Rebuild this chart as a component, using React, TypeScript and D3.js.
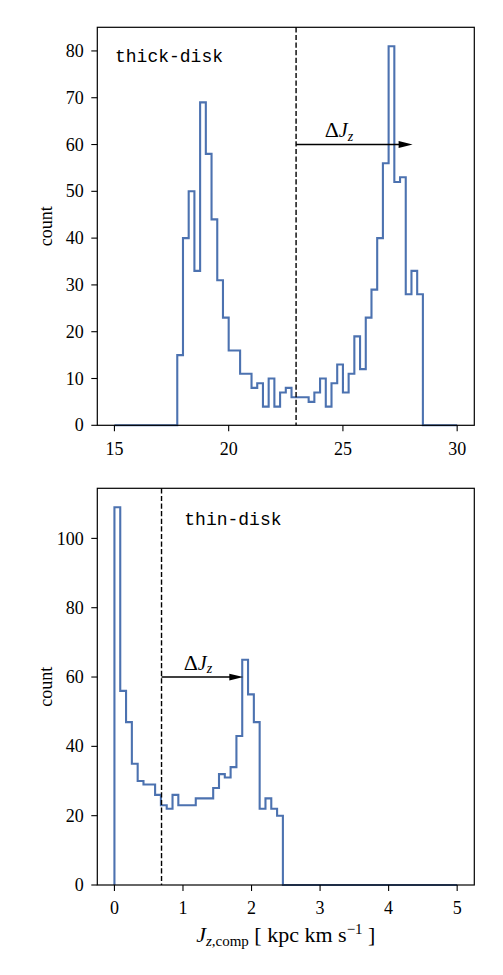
import React from 'react';
import * as d3 from 'd3';

// ---------- data ----------
const thickBins = 60;
const thinBins = 59;
const thickRange = [15, 30];
const thinRange = [0, 5];

const thickCounts = [
  0, 0, 0, 0, 0, 0, 0, 0, 0, 0, 0,
  15, 40, 50, 33, 69, 58, 44, 31, 23, 16,
  16, 11, 11, 8, 9, 4, 10, 4, 7, 8,
  6, 6, 6, 5, 7, 10, 4, 9, 13, 7,
  11, 19, 12, 23, 29, 40, 56, 81, 52, 53,
  28, 33, 28,
  0, 0, 0, 0, 0, 0,
];

const thinCounts = [
  109, 56, 47, 35, 30, 29, 29, 26, 23, 22,
  26, 23, 23, 23, 25, 25, 25, 28, 32, 31,
  34, 43, 65, 55, 47, 22, 25, 22, 20,
  0, 0, 0, 0, 0, 0, 0, 0, 0, 0, 0, 0, 0, 0, 0,
  0, 0, 0, 0, 0, 0, 0, 0, 0, 0, 0, 0, 0, 0, 0,
];

const thickXTicks = [15, 20, 25, 30];
const thickYTicks = [0, 10, 20, 30, 40, 50, 60, 70, 80];
const thinXTicks = [0, 1, 2, 3, 4, 5];
const thinYTicks = [0, 20, 40, 60, 80, 100];

const thickCut = 22.95;
const thickArrowEnd = 28.05;
const thickLabelX = 24.2;
const thinCut = 0.687;
const thinArrowEnd = 1.88;
const thinLabelX = 1.01;
const arrowLevel = 60;

// ---------- style ----------
const W = 503;
const H = 975;
const LEFT = 97.3;
const RIGHT = 474.3;
const BLUE = '#4c72b0';
const SERIF = "'Liberation Serif', 'DejaVu Serif', serif";
const MONO = "'Liberation Mono', 'DejaVu Sans Mono', monospace";

type PanelProps = {
  counts: number[];
  bins: number;
  range: number[];
  xTicks: number[];
  yTicks: number[];
  top: number;
  bottom: number;
  cut: number;
  arrowEnd: number;
  labelX: number;
  name: string;
  nameX: number;
  nameY: number;
  xlabel?: boolean;
};

function Panel(p: PanelProps) {
  const [lo, hi] = p.range;
  const pad = (hi - lo) * 0.05;
  const x = d3.scaleLinear().domain([lo - pad, hi + pad]).range([LEFT, RIGHT]);
  const ymax = (d3.max(p.counts) as number) * 1.05;
  const y = d3.scaleLinear().domain([0, ymax]).range([p.bottom, p.top]);
  const edges = d3.range(p.bins + 1).map((i) => lo + ((hi - lo) * i) / p.bins);

  const pts: [number, number][] = [[edges[0], 0]];
  p.counts.forEach((c, i) => {
    pts.push([edges[i], c]);
    pts.push([edges[i + 1], c]);
  });
  pts.push([edges[p.bins], 0]);
  const line = d3
    .line<[number, number]>()
    .x((d) => x(d[0]))
    .y((d) => y(d[1]));

  const ay = y(arrowLevel);
  const ax0 = x(p.cut);
  const ax1 = x(p.arrowEnd);
  const headLen = 14;
  const headHalf = 3.4;

  return (
    <g>
      <path d={line(pts) || ''} fill="none" stroke={BLUE} strokeWidth={2.1} strokeLinejoin="miter" />
      <line x1={ax0} x2={ax0} y1={p.top} y2={p.bottom} stroke="#000" strokeWidth={1.4} strokeDasharray="5.2,2.4" />
      <line x1={ax0} x2={ax1 - headLen + 1} y1={ay} y2={ay} stroke="#000" strokeWidth={1.4} />
      <polygon
        points={`${ax1},${ay} ${ax1 - headLen},${ay - headHalf} ${ax1 - headLen},${ay + headHalf}`}
        fill="#000"
      />
      <text x={x(p.labelX)} y={ay - 7.5} fontFamily={SERIF} fontSize={20} fill="#000">
        <tspan fontSize={22}>Δ</tspan>
        <tspan fontStyle="italic">J</tspan>
        <tspan fontStyle="italic" fontSize={14} dy={3.5}>z</tspan>
      </text>
      <text x={p.nameX} y={p.nameY} fontFamily={MONO} fontSize={18} fill="#000">
        {p.name}
      </text>
      <rect
        x={LEFT}
        y={p.top}
        width={RIGHT - LEFT}
        height={p.bottom - p.top}
        fill="none"
        stroke="#000"
        strokeWidth={1.2}
      />
      {p.xTicks.map((t) => (
        <g key={'x' + t}>
          <line x1={x(t)} x2={x(t)} y1={p.bottom} y2={p.bottom + 6} stroke="#000" strokeWidth={1.1} />
          <text x={x(t)} y={p.bottom + 29.3} textAnchor="middle" fontFamily={SERIF} fontSize={18} fill="#000">
            {t}
          </text>
        </g>
      ))}
      {p.yTicks.map((t) => (
        <g key={'y' + t}>
          <line x1={LEFT - 6} x2={LEFT} y1={y(t)} y2={y(t)} stroke="#000" strokeWidth={1.1} />
          <text x={LEFT - 13.5} y={y(t)} dy="0.34em" textAnchor="end" fontFamily={SERIF} fontSize={18} fill="#000">
            {t}
          </text>
        </g>
      ))}
      <text
        transform={`translate(51.7,${(p.top + p.bottom) / 2}) rotate(-90)`}
        textAnchor="middle"
        fontFamily={SERIF}
        fontSize={18}
        fill="#000"
      >
        count
      </text>
      {p.xlabel && (
        <text x={(LEFT + RIGHT) / 2} y={942} textAnchor="middle" fontFamily={SERIF} fontSize={22} fill="#000">
          <tspan fontStyle="italic">J</tspan>
          <tspan fontSize={15} dy={4}>
            <tspan fontStyle="italic">z</tspan>,comp
          </tspan>
          <tspan dy={-4}>{' [ kpc km s'}</tspan>
          <tspan fontSize={15} dy={-8}>−1</tspan>
          <tspan dy={8}>{' ]'}</tspan>
        </text>
      )}
    </g>
  );
}

export default function App() {
  return (
    <svg
      width={W}
      height={H}
      viewBox={`0 0 ${W} ${H}`}
      style={{ position: 'absolute', left: 0, top: 0, background: '#fff' }}
    >
      <rect x={0} y={0} width={W} height={H} fill="#fff" />
      <Panel
        counts={thickCounts}
        bins={thickBins}
        range={thickRange}
        xTicks={thickXTicks}
        yTicks={thickYTicks}
        top={27.3}
        bottom={425.3}
        cut={thickCut}
        arrowEnd={thickArrowEnd}
        labelX={thickLabelX}
        name="thick-disk"
        nameX={115}
        nameY={61.5}
      />
      <Panel
        counts={thinCounts}
        bins={thinBins}
        range={thinRange}
        xTicks={thinXTicks}
        yTicks={thinYTicks}
        top={488.3}
        bottom={885}
        cut={thinCut}
        arrowEnd={thinArrowEnd}
        labelX={thinLabelX}
        name="thin-disk"
        nameX={184.3}
        nameY={525}
        xlabel
      />
    </svg>
  );
}
